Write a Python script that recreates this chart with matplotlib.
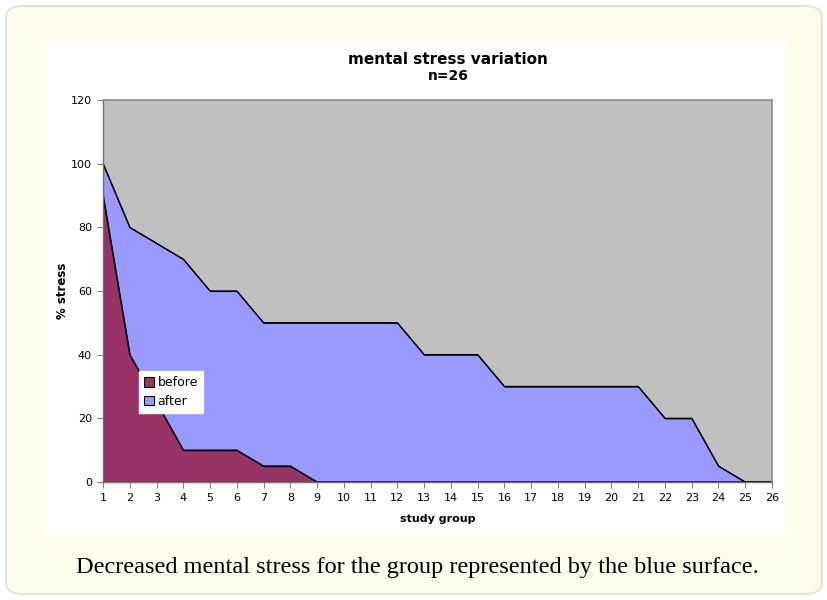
import matplotlib.pyplot as plt
from matplotlib.patches import FancyBboxPatch, Rectangle

groups = list(range(1, 27))
before = [90, 40, 25, 10, 10, 10, 5, 5, 0, 0, 0, 0, 0, 0, 0, 0, 0, 0, 0, 0, 0, 0, 0, 0, 0, 0]
after = [100, 80, 75, 70, 60, 60, 50, 50, 50, 50, 50, 50, 40, 40, 40, 30, 30, 30, 30, 30, 30, 20, 20, 5, 0, 0]
y_ticks = [0, 20, 40, 60, 80, 100, 120]

W, H = 828, 600
fig = plt.figure(figsize=(W / 100, H / 100), dpi=100)
fig.patch.set_facecolor('white')

# cream frame with rounded corners
frame = FancyBboxPatch((6 / W, 6 / H), 816 / W, 588 / H,
                       boxstyle='round,pad=0,rounding_size=0.02',
                       transform=fig.transFigure, facecolor='#fefbea',
                       edgecolor='#e6e3d6', linewidth=1.5, zorder=0)
fig.patches.append(frame)
# white chart box
box = Rectangle((45 / W, 1 - 534 / H), 742 / W, 494 / H, transform=fig.transFigure,
                facecolor='white', edgecolor='none', zorder=1)
fig.patches.append(box)

ax = fig.add_axes([103 / W, 1 - 482 / H, 669 / W, 382 / H])
ax.set_facecolor('#c0c0c0')
ax.set_zorder(2)

ax.fill_between(groups, after, 0, color='#9999ff', linewidth=0, label='after')
ax.plot(groups, after, color='black', lw=1)
ax.fill_between(groups, before, 0, color='#993366', linewidth=0, label='before')
ax.plot(groups, before, color='black', lw=1)

ax.set_xlim(1, 26)
ax.set_ylim(0, 120)
ax.set_xticks(groups)
ax.set_yticks(y_ticks)
ax.tick_params(labelsize=8, length=4, width=0.8, color='#808080', pad=4)

for s in ['top', 'right']:
    ax.spines[s].set_color('#8c8c8c')
    ax.spines[s].set_linewidth(1.2)
for s in ['left', 'bottom']:
    ax.spines[s].set_color('#707070')
    ax.spines[s].set_linewidth(1)

ax.set_xlabel('study group', fontsize=8, fontweight='bold', labelpad=8)
ax.set_ylabel('% stress', fontsize=8.5, fontweight='bold', labelpad=1.5)

handles, labels = ax.get_legend_handles_labels()
order = [1, 0]
for h in handles:
    h.set_edgecolor('black')
    h.set_linewidth(0.8)
leg = ax.legend([handles[i] for i in order], [labels[i] for i in order],
                loc='lower left', bbox_to_anchor=(36 / 669, 69 / 382),
                fontsize=9, frameon=True, fancybox=False, framealpha=1,
                edgecolor='white', handlelength=0.8, handleheight=0.8,
                handletextpad=0.3, borderpad=0.4, labelspacing=0.45,
                borderaxespad=0)

fig.text(448 / W, 1 - 60 / H, 'mental stress variation', ha='center', va='center',
         fontsize=11, fontweight='bold')
fig.text(448 / W, 1 - 76 / H, 'n=26', ha='center', va='center',
         fontsize=10, fontweight='bold')

fig.text(417 / W, 1 - 568 / H,
         'Decreased mental stress for the group represented by the blue surface.',
         ha='center', va='center', fontsize=17.5, family='Liberation Serif')

fig.savefig('out.png', dpi=100)
